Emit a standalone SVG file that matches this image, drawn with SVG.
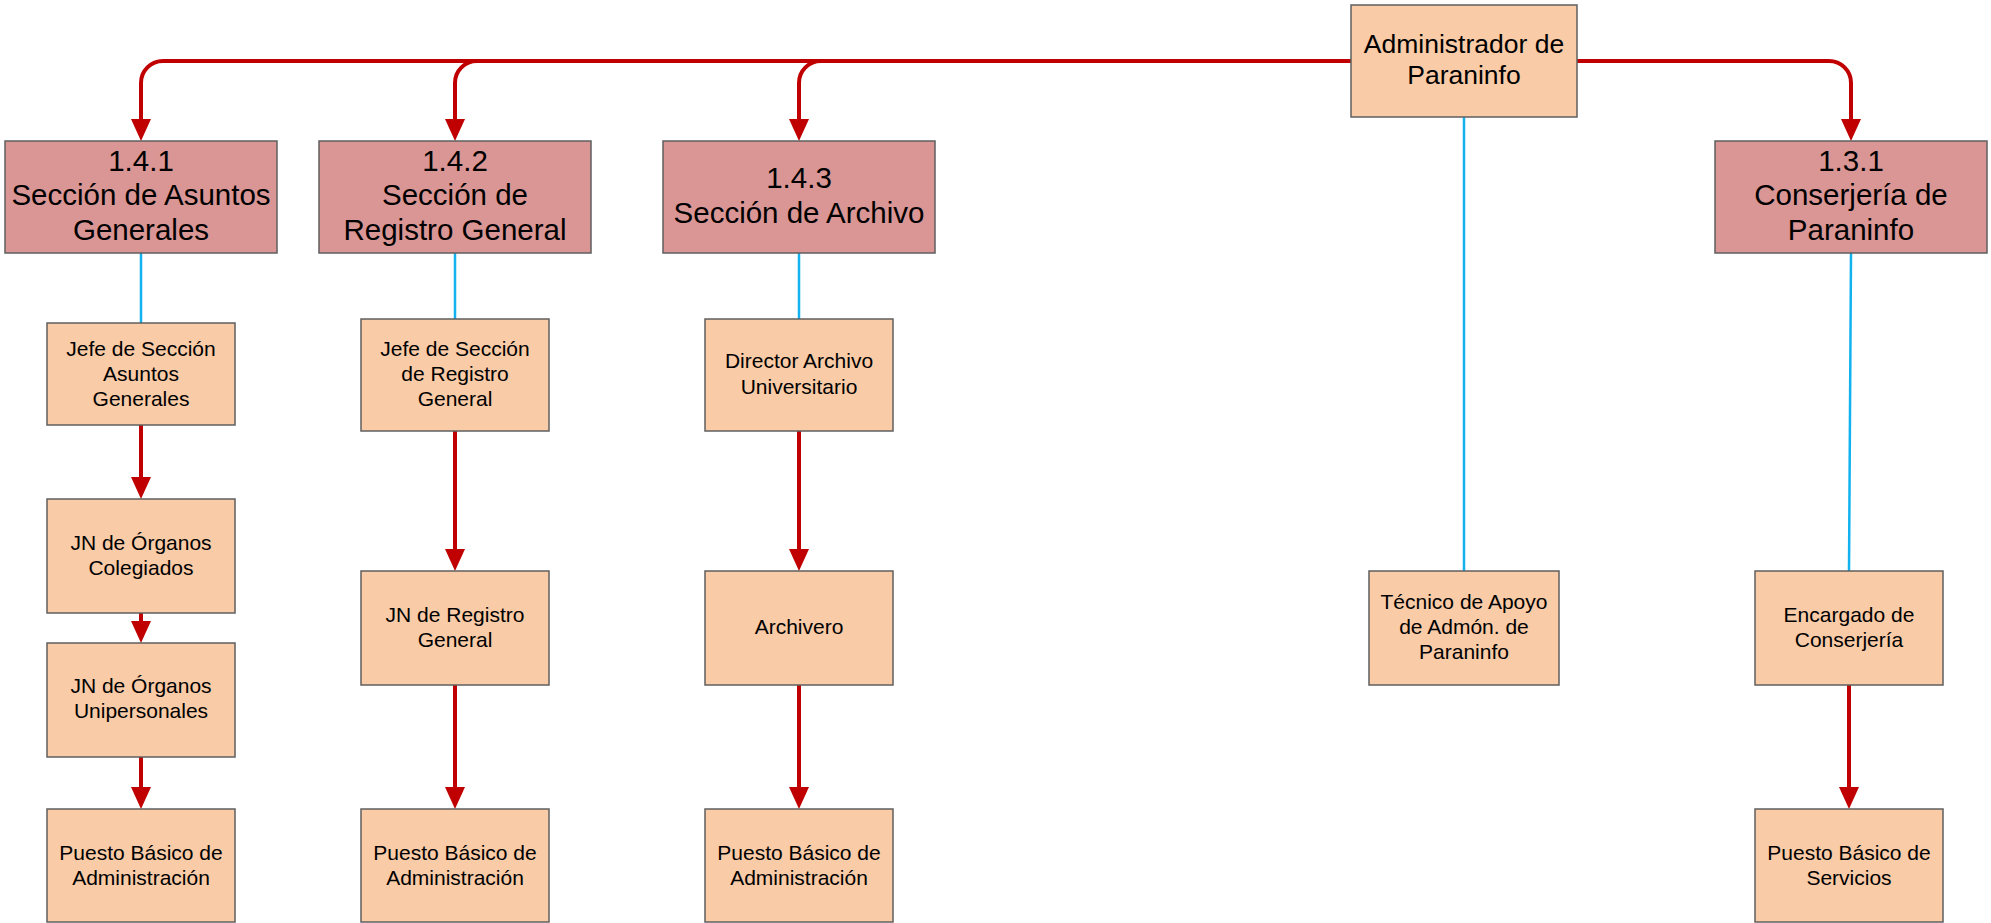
<svg xmlns="http://www.w3.org/2000/svg" width="1991" height="923" viewBox="0 0 1991 923">
<style>
.sec{fill:#D99694;stroke:#5F5F5F;stroke-width:1.5}
.pos{fill:#F9CBA7;stroke:#5F5F5F;stroke-width:1.5}
text{font-family:"Liberation Sans",Arial,sans-serif;fill:#000;text-anchor:middle}
.st{font-size:29.5px}
.at{font-size:26.5px}
.pt{font-size:21px}
.red{fill:none;stroke:#C00000;stroke-width:4}
.blue{fill:none;stroke:#12B2F0;stroke-width:2.5}
</style>
<defs>
<marker id="arr" markerUnits="userSpaceOnUse" viewBox="0 0 22 20" markerWidth="22" markerHeight="20" refX="0" refY="10" orient="auto">
<path d="M0,0 L22,10 L0,20 z" fill="#C00000"/>
</marker>
</defs>
<g id="connectors">
<path class="red" d="M1351,61 H163 A22,22 0 0 0 141,83 V119" marker-end="url(#arr)"/>
<path class="red" d="M477,61 A22,22 0 0 0 455,83 V119" marker-end="url(#arr)"/>
<path class="red" d="M821,61 A22,22 0 0 0 799,83 V119" marker-end="url(#arr)"/>
<path class="red" d="M1577,61 H1829 A22,22 0 0 1 1851,83 V119" marker-end="url(#arr)"/>
<path class="red" d="M141,425 V477" marker-end="url(#arr)"/>
<path class="red" d="M141,613 V621" marker-end="url(#arr)"/>
<path class="red" d="M141,757 V787" marker-end="url(#arr)"/>
<path class="red" d="M455,431 V549" marker-end="url(#arr)"/>
<path class="red" d="M455,685 V787" marker-end="url(#arr)"/>
<path class="red" d="M799,431 V549" marker-end="url(#arr)"/>
<path class="red" d="M799,685 V787" marker-end="url(#arr)"/>
<path class="red" d="M1849,685 V787" marker-end="url(#arr)"/>
<path class="blue" d="M141,253 V323"/>
<path class="blue" d="M455,253 V319"/>
<path class="blue" d="M799,253 V319"/>
<path class="blue" d="M1464,117 V571"/>
<path class="blue" d="M1851,253 L1849,571"/>
</g>
<g id="admin">
<rect class="pos" x="1351" y="5" width="226" height="112"/>
<text class="at" x="1464" y="53">Administrador de</text>
<text class="at" x="1464" y="84">Paraninfo</text>
</g>
<g id="sec141">
<rect class="sec" x="5" y="141" width="272" height="112"/>
<text class="st" x="141" y="171">1.4.1</text>
<text class="st" x="141" y="205">Sección de Asuntos</text>
<text class="st" x="141" y="240">Generales</text>
</g>
<g id="sec142">
<rect class="sec" x="319" y="141" width="272" height="112"/>
<text class="st" x="455" y="171">1.4.2</text>
<text class="st" x="455" y="205">Sección de</text>
<text class="st" x="455" y="240">Registro General</text>
</g>
<g id="sec143">
<rect class="sec" x="663" y="141" width="272" height="112"/>
<text class="st" x="799" y="188">1.4.3</text>
<text class="st" x="799" y="223">Sección de Archivo</text>
</g>
<g id="sec131">
<rect class="sec" x="1715" y="141" width="272" height="112"/>
<text class="st" x="1851" y="171">1.3.1</text>
<text class="st" x="1851" y="205">Conserjería de</text>
<text class="st" x="1851" y="240">Paraninfo</text>
</g>
<g id="jefe1">
<rect class="pos" x="47" y="323" width="188" height="102"/>
<text class="pt" x="141" y="356">Jefe de Sección</text>
<text class="pt" x="141" y="381">Asuntos</text>
<text class="pt" x="141" y="406">Generales</text>
</g>
<g id="jncol">
<rect class="pos" x="47" y="499" width="188" height="114"/>
<text class="pt" x="141" y="550">JN de Órganos</text>
<text class="pt" x="141" y="575">Colegiados</text>
</g>
<g id="jnuni">
<rect class="pos" x="47" y="643" width="188" height="114"/>
<text class="pt" x="141" y="693">JN de Órganos</text>
<text class="pt" x="141" y="718">Unipersonales</text>
</g>
<g id="puesto1">
<rect class="pos" x="47" y="809" width="188" height="113"/>
<text class="pt" x="141" y="860">Puesto Básico de</text>
<text class="pt" x="141" y="885">Administración</text>
</g>
<g id="jefe2">
<rect class="pos" x="361" y="319" width="188" height="112"/>
<text class="pt" x="455" y="356">Jefe de Sección</text>
<text class="pt" x="455" y="381">de Registro</text>
<text class="pt" x="455" y="406">General</text>
</g>
<g id="jnreg">
<rect class="pos" x="361" y="571" width="188" height="114"/>
<text class="pt" x="455" y="622">JN de Registro</text>
<text class="pt" x="455" y="647">General</text>
</g>
<g id="puesto2">
<rect class="pos" x="361" y="809" width="188" height="113"/>
<text class="pt" x="455" y="860">Puesto Básico de</text>
<text class="pt" x="455" y="885">Administración</text>
</g>
<g id="director">
<rect class="pos" x="705" y="319" width="188" height="112"/>
<text class="pt" x="799" y="368">Director Archivo</text>
<text class="pt" x="799" y="394">Universitario</text>
</g>
<g id="archivero">
<rect class="pos" x="705" y="571" width="188" height="114"/>
<text class="pt" x="799" y="634">Archivero</text>
</g>
<g id="puesto3">
<rect class="pos" x="705" y="809" width="188" height="113"/>
<text class="pt" x="799" y="860">Puesto Básico de</text>
<text class="pt" x="799" y="885">Administración</text>
</g>
<g id="tecnico">
<rect class="pos" x="1369" y="571" width="190" height="114"/>
<text class="pt" x="1464" y="609">Técnico de Apoyo</text>
<text class="pt" x="1464" y="634">de Admón. de</text>
<text class="pt" x="1464" y="659">Paraninfo</text>
</g>
<g id="encargado">
<rect class="pos" x="1755" y="571" width="188" height="114"/>
<text class="pt" x="1849" y="622">Encargado de</text>
<text class="pt" x="1849" y="647">Conserjería</text>
</g>
<g id="puesto4">
<rect class="pos" x="1755" y="809" width="188" height="113"/>
<text class="pt" x="1849" y="860">Puesto Básico de</text>
<text class="pt" x="1849" y="885">Servicios</text>
</g>
</svg>
